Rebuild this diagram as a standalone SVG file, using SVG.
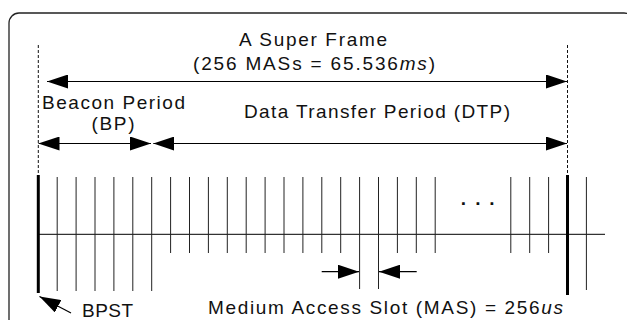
<svg xmlns="http://www.w3.org/2000/svg" width="627" height="320" viewBox="0 0 627 320">
  <style>
    .lbl { font-family: "Liberation Sans", Arial, sans-serif; font-size: 19px; fill: #111; }
    .it { font-style: italic; }
    .frame { fill: #fff; stroke: #222; stroke-width: 1.3; }
    .dash { stroke: #111; stroke-width: 1; stroke-dasharray: 3 2; }
    .bound { stroke: #000; stroke-width: 3; }
    .slot { stroke: #222; stroke-width: 1; }
    .axis { stroke: #000; stroke-width: 1; }
    .arrow { stroke: #000; stroke-width: 1.2; fill: none; }
  </style>
  <defs>
    <marker id="head" viewBox="0 0 21 14" refX="21" refY="7" markerWidth="21" markerHeight="14" markerUnits="userSpaceOnUse" orient="auto-start-reverse">
      <path d="M0,0 L21,7 L0,14 z" fill="#000"/>
    </marker>
  </defs>

  <!-- outer rounded panel -->
  <rect id="panel" class="frame" x="9" y="13" width="625" height="330" rx="10"/>

  <!-- period boundaries -->
  <g id="boundaries">
    <line class="dash" x1="38.3" y1="45" x2="38.3" y2="176"/>
    <line class="dash" x1="567.5" y1="45" x2="567.5" y2="176"/>
    <line class="bound" x1="38.3" y1="175" x2="38.3" y2="293"/>
    <line class="bound" x1="567.5" y1="175" x2="567.5" y2="295"/>
  </g>

  <!-- slot grid -->
  <g id="timeline">
    <line class="axis" x1="38" y1="234.3" x2="605" y2="234.3"/>
    <!-- beacon period slots (long) -->
    <line class="slot" x1="57.2" y1="177" x2="57.2" y2="291"/>
    <line class="slot" x1="76.1" y1="177" x2="76.1" y2="291"/>
    <line class="slot" x1="95" y1="177" x2="95" y2="291"/>
    <line class="slot" x1="113.9" y1="177" x2="113.9" y2="291"/>
    <line class="slot" x1="132.8" y1="177" x2="132.8" y2="291"/>
    <line class="slot" x1="151.7" y1="177" x2="151.7" y2="291"/>
    <!-- data transfer slots (short) -->
    <line class="slot" x1="170.6" y1="177" x2="170.6" y2="253"/>
    <line class="slot" x1="189.5" y1="177" x2="189.5" y2="253"/>
    <line class="slot" x1="208.4" y1="177" x2="208.4" y2="253"/>
    <line class="slot" x1="227.3" y1="177" x2="227.3" y2="253"/>
    <line class="slot" x1="246.2" y1="177" x2="246.2" y2="253"/>
    <line class="slot" x1="265.1" y1="177" x2="265.1" y2="253"/>
    <line class="slot" x1="284" y1="177" x2="284" y2="253"/>
    <line class="slot" x1="302.9" y1="177" x2="302.9" y2="253"/>
    <line class="slot" x1="321.8" y1="177" x2="321.8" y2="253"/>
    <line class="slot" x1="340.7" y1="177" x2="340.7" y2="253"/>
    <!-- one MAS, marked -->
    <line class="slot" x1="359.6" y1="177" x2="359.6" y2="289"/>
    <line class="slot" x1="378.5" y1="177" x2="378.5" y2="289"/>
    <line class="slot" x1="397.4" y1="177" x2="397.4" y2="253"/>
    <line class="slot" x1="416.3" y1="177" x2="416.3" y2="253"/>
    <line class="slot" x1="435.2" y1="177" x2="435.2" y2="253"/>
    <line class="slot" x1="510.8" y1="177" x2="510.8" y2="253"/>
    <line class="slot" x1="529.7" y1="177" x2="529.7" y2="253"/>
    <line class="slot" x1="548.6" y1="177" x2="548.6" y2="253"/>
    <!-- next superframe -->
    <line class="slot" x1="586.4" y1="177" x2="586.4" y2="290"/>
    <text class="lbl" font-weight="bold" font-size="22" y="205"><tspan x="460.8">.</tspan><tspan x="475.3">.</tspan><tspan x="489.3">.</tspan></text>
  </g>

  <!-- dimension arrows -->
  <g id="connectors">
    <line class="arrow" x1="47" y1="81.5" x2="567" y2="81.5" marker-start="url(#head)" marker-end="url(#head)"/>
    <line class="arrow" x1="38.5" y1="143.5" x2="151" y2="143.5" marker-start="url(#head)" marker-end="url(#head)"/>
    <line class="arrow" x1="153.3" y1="143.5" x2="567" y2="143.5" marker-start="url(#head)" marker-end="url(#head)"/>
    <line class="arrow" x1="321.7" y1="271.7" x2="359" y2="271.7" marker-end="url(#head)"/>
    <line class="arrow" x1="416.7" y1="271.7" x2="379" y2="271.7" marker-end="url(#head)"/>
    <line class="arrow" x1="71" y1="313" x2="39.5" y2="296.5" marker-end="url(#head)"/>
  </g>

  <!-- labels -->
  <g id="superframe-label">
    <text class="lbl" x="239" y="46" textLength="148" lengthAdjust="spacing">A Super Frame</text>
    <text class="lbl" x="193" y="70" textLength="242" lengthAdjust="spacing">(256 MASs = 65.536<tspan class="it">ms</tspan>)</text>
  </g>
  <g id="bp-label">
    <text class="lbl" x="42" y="109" textLength="143" lengthAdjust="spacing">Beacon Period</text>
    <text class="lbl" x="91.5" y="130" textLength="43" lengthAdjust="spacing">(BP)</text>
  </g>
  <g id="dtp-label">
    <text class="lbl" x="244" y="118" textLength="266" lengthAdjust="spacing">Data Transfer Period (DTP)</text>
  </g>
  <g id="mas-label">
    <text class="lbl" x="208" y="314" textLength="355" lengthAdjust="spacing">Medium Access Slot (MAS) = 256<tspan class="it">us</tspan></text>
  </g>
  <g id="bpst-label">
    <text class="lbl" x="82" y="317" textLength="51" lengthAdjust="spacing">BPST</text>
  </g>
</svg>
